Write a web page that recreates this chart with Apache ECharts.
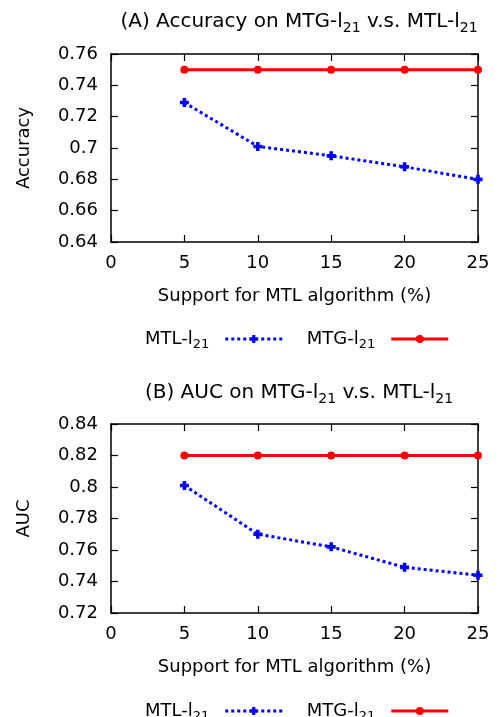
<!DOCTYPE html>
<html><head><meta charset="utf-8">
<script src="https://cdn.jsdelivr.net/npm/echarts@6/dist/echarts.min.js"></script>
<style>html,body{margin:0;padding:0;background:#fff}#c{width:502px;height:717px}</style>
</head><body><div id="c"></div>
<script>
const xValues = [5, 10, 15, 20, 25];
const accMTL = [0.729, 0.701, 0.695, 0.688, 0.680];
const accMTG = [0.750, 0.750, 0.750, 0.750, 0.750];
const aucMTL = [0.801, 0.770, 0.762, 0.749, 0.744];
const aucMTG = [0.820, 0.820, 0.820, 0.820, 0.820];
const seriesNames = ['MTL-l21', 'MTG-l21'];
const titleA = ['(A) Accuracy on MTG-l', '21', ' v.s. MTL-l', '21'];
const titleB = ['(B) AUC on MTG-l', '21', ' v.s. MTL-l', '21'];
const xName = 'Support for MTL algorithm (%)';
const yNames = ['Accuracy', 'AUC'];

const FONT = 'DejaVu Sans';
const FS = 18;
const rich = {
  n: {fontFamily: FONT, fontSize: FS, fontWeight: 'normal', color: '#000'},
  t: {fontFamily: FONT, fontSize: 20, fontWeight: 'normal', color: '#000'},
  ts: {fontFamily: FONT, fontSize: 14, fontWeight: 'normal', color: '#000', padding: [12, 0, 0, 0]},
  sl: {fontFamily: FONT, fontSize: 13, fontWeight: 'normal', color: '#000', padding: [12, 11, 0, 0]}
};
function titleText(t){ return `{t|${t[0]}}{ts|${t[1]}}{t|${t[2]}}{ts|${t[3]}}`; }
function pairs(ys){ return xValues.map((x,i)=>[x, ys[i]]); }
const plus = 'path://M3,0H7V3H10V7H7V10H3V7H0V3H3Z';
const fmt = v => String(+v.toFixed(2));

const grids = [
  {left: 111, right: 24, top: 54, height: 188},
  {left: 111, right: 24, top: 424, height: 189}
];
const yRanges = [[0.64, 0.76], [0.72, 0.84]];

const tick = {inside: true, length: 7, lineStyle: {color: '#000', width: 1.2}};
const xAxes = [], yAxes = [];
grids.forEach((g, gi) => {
  xAxes.push({
    type: 'value', gridIndex: gi, min: 0, max: 25, interval: 5, position: 'bottom',
    name: xName, nameLocation: 'middle', nameGap: 45,
    nameTextStyle: {fontFamily: FONT, fontSize: FS, color: '#000'},
    axisLine: {lineStyle: {color: '#000', width: 1.5}},
    axisTick: tick,
    axisLabel: {fontFamily: FONT, fontSize: FS, color: '#000', margin: 12},
    splitLine: {show: false}
  });
  xAxes.push({
    type: 'value', gridIndex: gi, min: 0, max: 25, interval: 5, position: 'top',
    axisLine: {onZero: false, lineStyle: {color: '#000', width: 1.5}},
    axisTick: tick,
    axisLabel: {show: false}, splitLine: {show: false}
  });
  yAxes.push({
    type: 'value', gridIndex: gi, min: yRanges[gi][0], max: yRanges[gi][1], interval: 0.02, position: 'left',
    name: yNames[gi], nameLocation: 'middle', nameGap: 78, nameRotate: 90,
    nameTextStyle: {fontFamily: FONT, fontSize: FS, color: '#000'},
    axisLine: {lineStyle: {color: '#000', width: 1.5}},
    axisTick: tick,
    axisLabel: {fontFamily: FONT, fontSize: FS, color: '#000', margin: 13, formatter: fmt},
    splitLine: {show: false}
  });
  yAxes.push({
    type: 'value', gridIndex: gi, min: yRanges[gi][0], max: yRanges[gi][1], interval: 0.02, position: 'right',
    axisLine: {onZero: false, lineStyle: {color: '#000', width: 1.5}},
    axisTick: tick,
    axisLabel: {show: false}, splitLine: {show: false}
  });
});

function mtl(gi, data){
  return {name: seriesNames[0], type: 'line', xAxisIndex: gi*2, yAxisIndex: gi*2, data: pairs(data),
    symbol: plus, symbolSize: 9, itemStyle: {color: '#0000ff'},
    lineStyle: {color: '#0000ff', width: 3, type: [3, 3], cap: 'butt'}, animation: false, z: 3};
}
function mtg(gi, data){
  return {name: seriesNames[1], type: 'line', xAxisIndex: gi*2, yAxisIndex: gi*2, data: pairs(data),
    symbol: 'circle', symbolSize: 8, itemStyle: {color: '#ff0000'},
    lineStyle: {color: '#ff0000', width: 3}, animation: false, z: 4};
}

function legendAt(top){
  return {
    top: top, left: 140, align: 'right', orient: 'horizontal', itemWidth: 57, itemHeight: 10, itemGap: 23,
    selectedMode: false,
    data: [
      {name: seriesNames[0], lineStyle: {width: 3, type: [3, 3], color: '#0000ff'}},
      {name: seriesNames[1], lineStyle: {width: 3, color: '#ff0000'}}
    ],
    formatter: n => `{n|${n.slice(0, -2)}}{sl|${n.slice(-2)}}`,
    textStyle: {fontFamily: FONT, fontSize: FS, color: '#000', rich: rich}
  };
}

const option = {
  backgroundColor: '#fff',
  animation: false,
  title: [
    {text: titleText(titleA), left: 294, textAlign: 'center', top: 4, textStyle: {fontWeight: 'normal', rich: rich}},
    {text: titleText(titleB), left: 294, textAlign: 'center', top: 375, textStyle: {fontWeight: 'normal', rich: rich}}
  ],
  legend: [legendAt(325), legendAt(697)],
  grid: grids,
  xAxis: xAxes,
  yAxis: yAxes,
  series: [mtl(0, accMTL), mtg(0, accMTG), mtl(1, aucMTL), mtg(1, aucMTG)]
};
const chart = echarts.init(document.getElementById('c'), null, {renderer: 'canvas'});
chart.setOption(option);
</script></body></html>
